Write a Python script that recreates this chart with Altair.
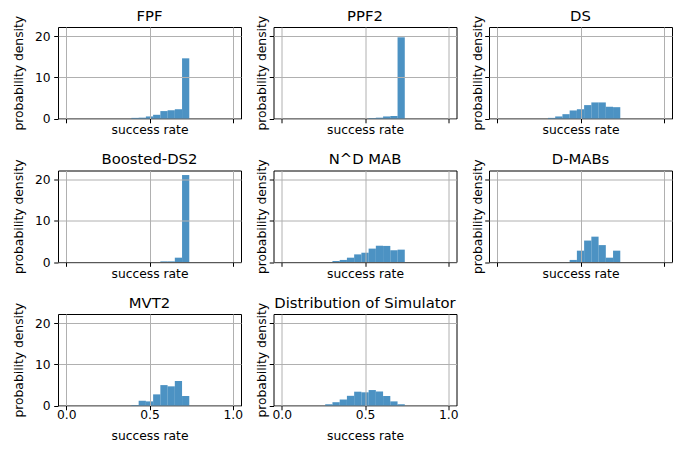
import altair as alt
import pandas as pd

NBINS = 23
TITLES = ["FPF", "PPF2", "DS", "Boosted-DS2", "N^D MAB", "D-MABs", "MVT2",
          "Distribution of Simulator"]
FIRST_BIN = [9, 12, 7, 13, 7, 10, 9, 6]
FPF = [0.15, 0.2, 0.5, 0.9, 1.8, 2.0, 2.25, 14.6]
PPF2 = [0.1, 0.2, 0.5, 0.6, 19.7]
DS = [0.15, 0.5, 1.05, 1.95, 2.25, 3.25, 3.9, 3.9, 2.85, 2.75]
BOOSTED_DS2 = [0.15, 0.15, 1.05, 21.1]
ND_MAB = [0.25, 0.5, 1.05, 1.85, 2.25, 3.25, 3.95, 3.9, 2.85, 3.0]
D_MABS = [0.5, 2.75, 5.2, 6.15, 4.1, 1.05, 2.75]
MVT2 = [0.1, 1.15, 1.0, 2.7, 4.95, 4.65, 5.95, 2.3]
SIMULATOR = [0.3, 0.8, 1.45, 2.35, 3.35, 3.2, 3.75, 3.4, 2.3, 1.0, 0.3]
SERIES = [FPF, PPF2, DS, BOOSTED_DS2, ND_MAB, D_MABS, MVT2, SIMULATOR]

X_TICKS = [0.0, 0.5, 1.0]
Y_TICKS = [0, 10, 20]

FONT = "DejaVu Sans"


def panel(i):
    row, col = divmod(i, 3)
    first = FIRST_BIN[i]
    vals = SERIES[i]
    df = pd.DataFrame({
        "start": [(first + j) / NBINS for j in range(len(vals))],
        "end": [(first + j + 1) / NBINS for j in range(len(vals))],
        "density": vals,
    })
    show_x = row == 2
    show_y = col == 0
    xaxis = alt.Axis(values=X_TICKS, format=".1f", labels=show_x,
                     title="success rate", tickSize=4.3, labelPadding=-1,
                     titlePadding=8 if show_x else 0.5, domain=False, zindex=1)
    yaxis = alt.Axis(values=Y_TICKS, labels=show_y, title="probability density",
                     tickSize=4.3, labelPadding=3.5,
                     titlePadding=9 if show_y else 0, domain=False, zindex=1)
    return alt.Chart(df).mark_rect(color="#1f77b4", opacity=0.8).encode(
        x=alt.X("start:Q", scale=alt.Scale(domain=[-0.05, 1.05], nice=False, zero=False),
                axis=xaxis),
        x2="end:Q",
        y=alt.Y("density:Q", scale=alt.Scale(domain=[0, 22.2], nice=False), axis=yaxis),
        y2=alt.datum(0),
    ).properties(
        width=183, height=91.5,
        title=alt.TitleParams(TITLES[i], fontSize=14.8, font=FONT, fontWeight="normal",
                              offset=-8.3, color="black"),
    )


panels = [panel(i) for i in range(8)]
chart = alt.concat(
    *panels, columns=3, spacing={"row": 51.5, "column": 32.5}, bounds="flush"
).properties(
    padding={"left": 4, "top": 0, "right": 0, "bottom": 0}
).configure_view(
    stroke="black", strokeWidth=1
).configure_axis(
    grid=True, gridColor="#b0b0b0", gridWidth=1, tickColor="black", tickWidth=1,
    labelColor="black", titleColor="black", labelFont=FONT, titleFont=FONT,
    labelFontSize=12.3, titleFontSize=12.3, titleFontWeight="normal",
)

chart.save("out.html", embed_options={"renderer": "svg", "actions": False})
